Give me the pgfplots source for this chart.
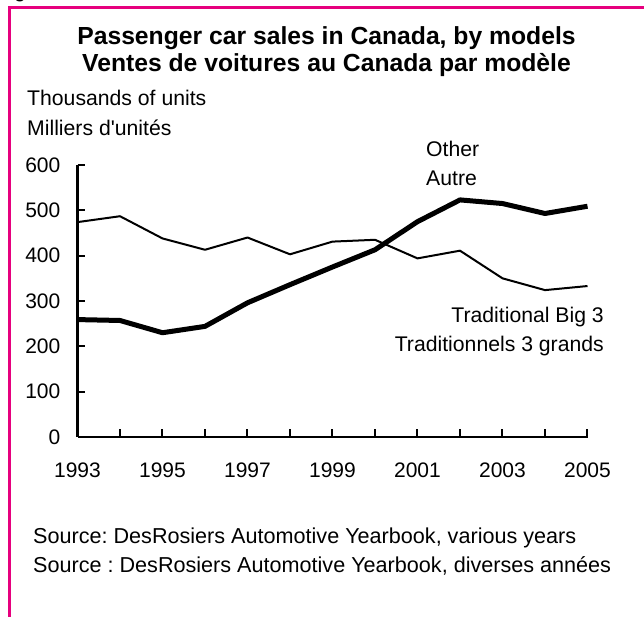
\documentclass[border=0pt]{standalone}
\usepackage{pgfplots}
\pgfplotsset{compat=1.18}
\usepackage{fontspec}
\setmainfont[Ligatures=TeXOff]{Liberation Sans}
\frenchspacing
\definecolor{magborder}{RGB}{230,0,126}
\pgfplotstableread{
year big3 other
1993 474 259
1994 487 257
1995 438 230
1996 413 244
1997 440 296
1998 403 336
1999 431 375
2000 435 413
2001 394 475
2002 411 523
2003 350 515
2004 324 493
2005 333 509
}\datatable
\newcommand{\bodyfont}{\fontsize{21.2}{25}\selectfont}
\newcommand{\tickfont}{\fontsize{21}{25}\selectfont}
\newcommand{\srcfont}{\fontsize{21.6}{25}\selectfont}
\begin{document}
\begin{tikzpicture}[x=1pt,y=1pt]
\useasboundingbox (0,0) rectangle (644,617);
\fill[white] (0,0) rectangle (644,617);
\node[anchor=base west, inner sep=0pt, font=\bodyfont] at (14,619) {g};
\draw[magborder, line width=3pt] (9.5,0) -- (9.5,609.5) -- (644,609.5);
\begin{axis}[
  at={(77.5pt,180pt)}, anchor=origin,
  scale only axis, width=510pt, height=272pt,
  xmin=1993, xmax=2005, ymin=0, ymax=600,
  axis x line=bottom, axis y line=left,
  axis line style={-, line width=2.5pt, black},
  xtick={1993,1994,...,2005},
  xticklabels={1993,,1995,,1997,,1999,,2001,,2003,,2005},
  ytick={0,100,...,600},
  yticklabels={0,100,200,300,400,500,600},
  tick align=inside, major tick length=8pt,
  tick style={line width=2pt, black},
  xticklabel style={font=\tickfont, anchor=north, inner sep=0pt, yshift=-26pt},
  yticklabel style={font=\tickfont, anchor=east, inner sep=0pt, xshift=-17pt},
  clip=false,
]
\addplot[black, line width=2pt, line join=round] table[x=year, y=big3] {\datatable};
\addplot[black, line width=5pt, line join=round] table[x=year, y=other] {\datatable};
\end{axis}
\node[anchor=base, inner sep=0pt, font=\fontsize{24.7}{28}\selectfont\bfseries] at (326.5,572) {Passenger car sales in Canada, by models};
\node[anchor=base, inner sep=0pt, font=\fontsize{24.7}{28}\selectfont\bfseries] at (326.5,545) {Ventes de voitures au Canada par modèle};
\node[anchor=base west, inner sep=0pt, font=\bodyfont] at (27,511) {Thousands of units};
\node[anchor=base west, inner sep=0pt, font=\bodyfont] at (27,481) {Milliers d'unités};
\node[anchor=base west, inner sep=0pt, font=\bodyfont] at (426,460) {Other};
\node[anchor=base west, inner sep=0pt, font=\bodyfont] at (426,431) {Autre};
\node[anchor=base east, inner sep=0pt, font=\bodyfont] at (604,294) {Traditional Big 3};
\node[anchor=base east, inner sep=0pt, font=\bodyfont] at (604,265) {Traditionnels 3 grands};
\node[anchor=base west, inner sep=0pt, font=\srcfont] at (33,73) {Source: DesRosiers Automotive Yearbook, various years};
\node[anchor=base west, inner sep=0pt, font=\srcfont] at (33,44) {Source : DesRosiers Automotive Yearbook, diverses années};
\end{tikzpicture}
\end{document}
